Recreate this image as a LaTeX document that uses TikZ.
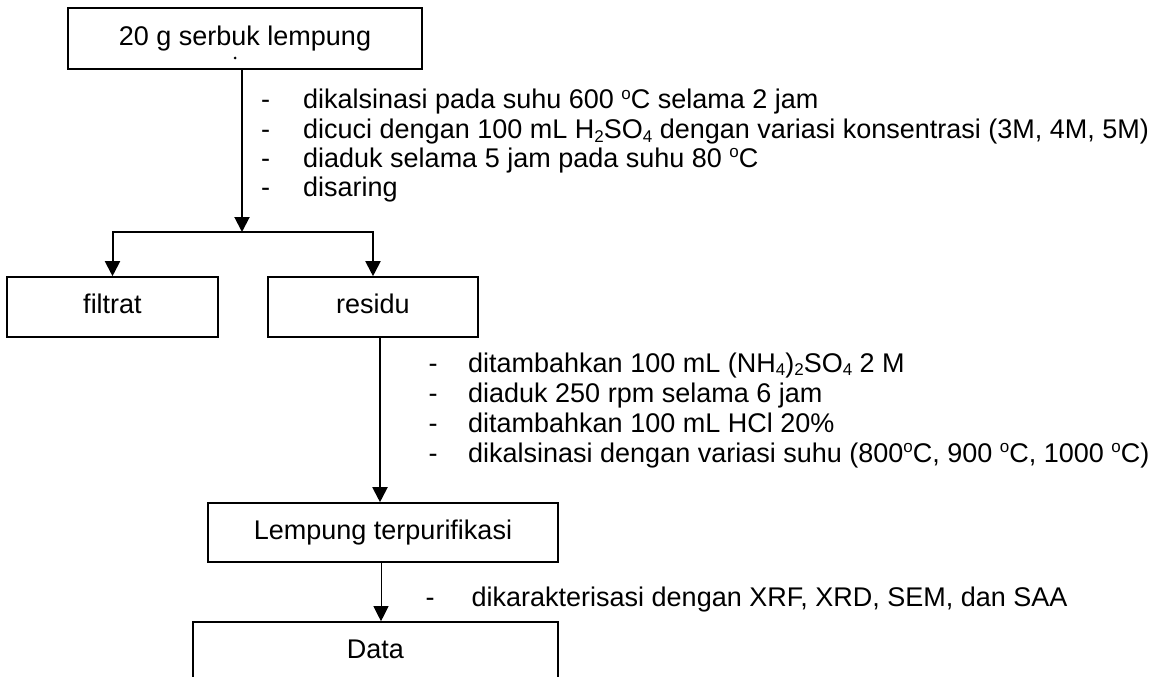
\documentclass[tikz,border=0pt]{standalone}
\usepackage{fontspec}
\setmainfont{Liberation Sans}
\usetikzlibrary{arrows.meta}
\newcommand\supo{\raisebox{0.36em}{\fontsize{17}{17}\selectfont o}}
\newcommand\sbs[1]{\raisebox{-0.14em}{\fontsize{17}{17}\selectfont #1}}
\newcommand\dashA{\makebox[42pt][l]{-}}
\newcommand\dashB{\makebox[39.5pt][l]{-}}
\newcommand\dashC{\makebox[46pt][l]{-}}
\tikzset{
  x=1pt, y=-1pt,
  every node/.style={font=\fontsize{27}{30}\selectfont, inner sep=0pt},
  box/.style={draw, line width=1.6pt, text height=19pt, text depth=5.6pt},
  arr/.style={line width=2pt, -{Triangle[width=15pt,length=15pt]}},
  thinarr/.style={line width=0.8pt, -{Triangle[width=15pt,length=15pt]}},
  listline/.style={anchor=base west}
}
\begin{document}
\begin{tikzpicture}
\useasboundingbox (0,0) rectangle (1152,677);
\clip (0,0) rectangle (1152,677);
% boxes
\node[box, minimum width=354pt, minimum height=61pt] (b1) at (245,38.5) {20 g serbuk lempung};
\node[fill, circle, minimum size=3pt] (dot) at (235,58) {};
\node[box, minimum width=211pt, minimum height=60pt] (fil) at (112.5,307) {filtrat};
\node[box, minimum width=210pt, minimum height=60pt] (res) at (373,307) {residu};
\node[box, minimum width=350pt, minimum height=59pt] (lem) at (383,532.5) {Lempung terpurifikasi};
\node[box, minimum width=365pt, minimum height=60pt] (dat) at (375.5,652) {Data};
% connectors
\coordinate (sp) at (242,232);
\draw[arr] ([xshift=-3pt]b1.south) -- (sp);
\draw[arr] (sp) -| (fil.north);
\draw[arr] (sp) -| (res.north);
\draw[arr] ([xshift=7pt]res.south) -- ([xshift=7pt]res.south |- lem.north);
\draw[thinarr] ([xshift=-2pt]lem.south) -- ([xshift=-2pt]lem.south |- dat.north);
% list 1
\node[listline] (a1) at (261,109) {\dashA dikalsinasi pada suhu 600 \supo C selama 2 jam};
\node[listline] (a2) at (261,138.5) {\dashA dicuci dengan 100 mL H\sbs{2}SO\sbs{4} dengan variasi konsentrasi (3M, 4M, 5M)};
\node[listline] (a3) at (261,167) {\dashA diaduk selama 5 jam pada suhu 80 \supo C};
\node[listline] (a4) at (261,196) {\dashA disaring};
% list 2
\node[listline] (m1) at (428.5,372) {\dashB ditambahkan 100 mL (NH\sbs{4})\sbs{2}SO\sbs{4} 2 M};
\node[listline] (m2) at (428.5,402) {\dashB diaduk 250 rpm selama 6 jam};
\node[listline] (m3) at (428.5,432) {\dashB ditambahkan 100 mL HCl 20\%};
\node[listline] (m4) at (428.5,462) {\dashB dikalsinasi dengan variasi suhu (800\supo C, 900 \supo C, 1000 \supo C)};
% list 3
\node[listline] (n1) at (425.5,606) {\dashC dikarakterisasi dengan XRF, XRD, SEM, dan SAA};
\end{tikzpicture}
\end{document}
